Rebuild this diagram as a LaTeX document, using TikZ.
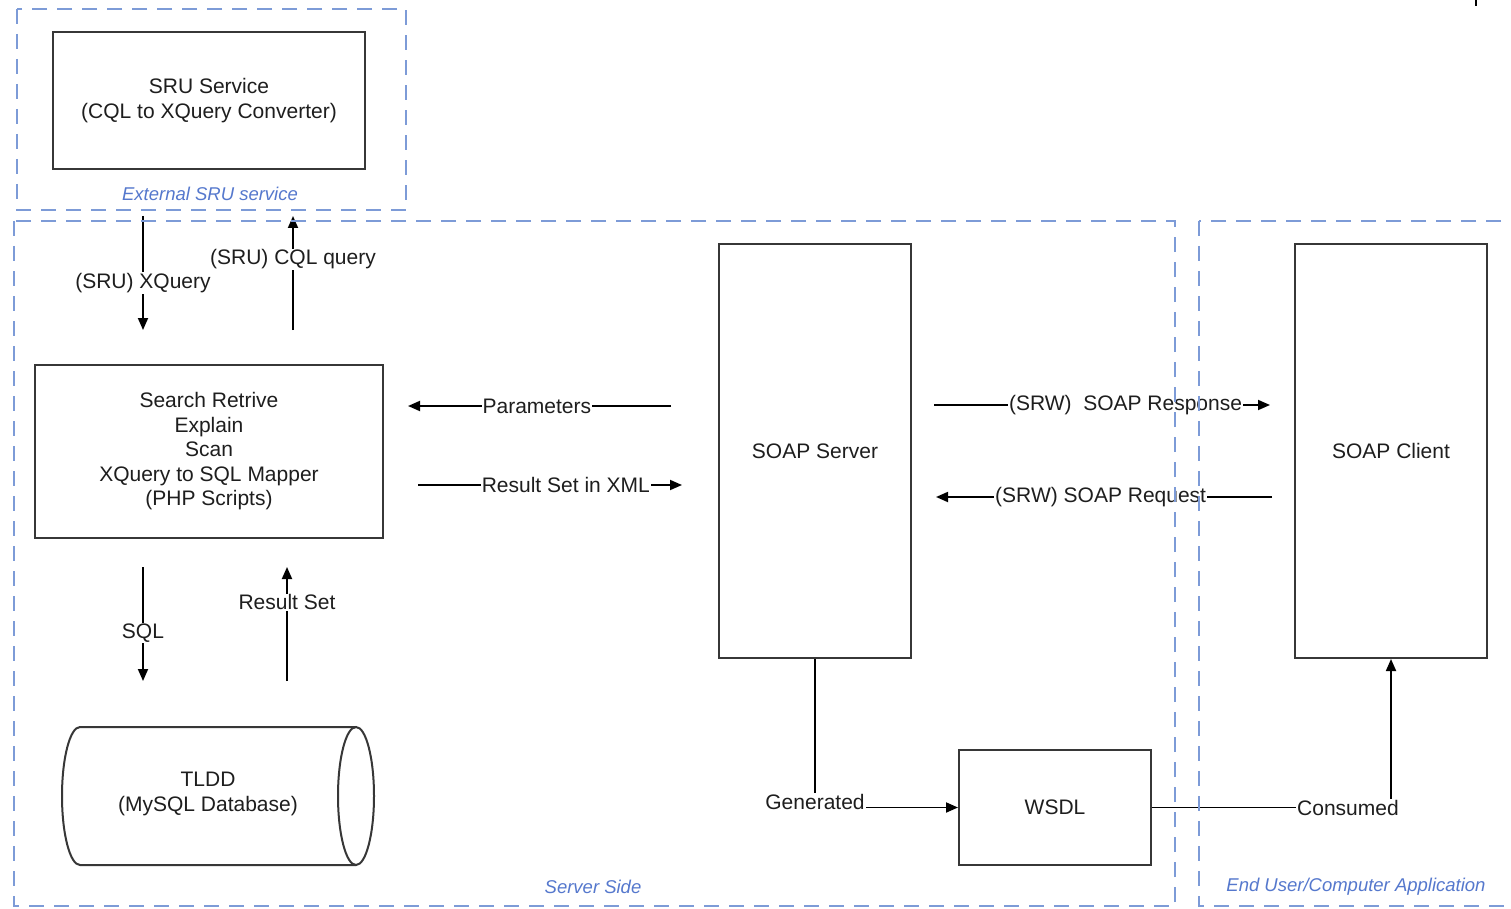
\documentclass[tikz,border=0pt]{standalone}
\usepackage{fontspec}
\setmainfont{Liberation Sans}
\usetikzlibrary{arrows.meta}
\definecolor{dashblue}{RGB}{125,155,215}
\definecolor{lblblue}{RGB}{85,120,205}
\definecolor{boxgray}{RGB}{55,55,55}
\definecolor{txt}{RGB}{30,30,30}
\begin{document}
\begin{tikzpicture}[x=1pt,y=-1pt,
  box/.style={draw=boxgray, line width=2pt, align=center, text=txt,
    font=\fontsize{21}{24.5}\selectfont, inner sep=0pt},
  frame/.style={draw=dashblue, line width=2.6pt, dash pattern=on 15pt off 10pt},
  zone/.style={text=lblblue, font=\fontsize{18.5}{20}\selectfont\itshape, inner sep=0pt},
  lbl/.style={fill=white, inner sep=1pt, text=txt, font=\fontsize{21}{23}\selectfont},
  arr/.style={draw=black, line width=1.8pt, -{Triangle[length=12pt,width=10pt]}},
  plain/.style={draw=black, line width=1.8pt}]
\useasboundingbox (0,0) rectangle (1511,909);
\clip (0,0) rectangle (1511,909);
\fill[white] (0,0) rectangle (1511,909);

% boxes
\node[box, minimum width=312pt, minimum height=137pt] (sru) at (209,100.5)
  {SRU Service\\(CQL to XQuery Converter)};
\node[box, minimum width=348pt, minimum height=173pt] (search) at (209,451.5)
  {Search Retrive\\Explain\\Scan\\XQuery to SQL Mapper\\(PHP Scripts)};
\node[box, minimum width=192pt, minimum height=414pt] (soap) at (815,451) {SOAP Server};
\node[box, minimum width=192pt, minimum height=414pt] (client) at (1391,451) {SOAP Client};
\node[box, minimum width=192pt, minimum height=115pt] (wsdl) at (1055,807.5) {WSDL};

% database cylinder
\draw[boxgray, line width=2pt] (356,727) -- (80,727)
  arc[start angle=90, end angle=270, x radius=18pt, y radius=69pt] -- (356,865);
\draw[boxgray, line width=2pt] (356,796) ellipse [x radius=18pt, y radius=69pt];
\node[align=center, text=txt, font=\fontsize{21}{24.5}\selectfont] (db) at (208,794)
  {TLDD\\(MySQL Database)};

% free connector ends
\coordinate (xqa) at (143,216); \coordinate (xqb) at (143,330);
\coordinate (cqa) at (293,330); \coordinate (cqb) at (293,216);
\coordinate (paa) at (671,406); \coordinate (pab) at (408,406);
\coordinate (rsa) at (418,485); \coordinate (rsb) at (682,485);
\coordinate (spa) at (934,405); \coordinate (spb) at (1270,405);
\coordinate (sqa) at (1272,497); \coordinate (sqb) at (936,497);
\coordinate (sla) at (143,567); \coordinate (slb) at (143,681);
\coordinate (rta) at (287,681); \coordinate (rtb) at (287,567);

\draw[arr] (xqa) -- node[lbl, pos=0.59] {(SRU) XQuery} (xqb);
\draw[arr] (cqa) -- node[lbl, pos=0.62] {(SRU) CQL query} (cqb);
\draw[arr] (paa) -- node[lbl, pos=0.51] {Parameters} (pab);
\draw[arr] (rsa) -- node[lbl, pos=0.56] {Result Set in XML} (rsb);
\draw[arr] (spa) -- node[lbl, pos=0.57] {(SRW)\ \ SOAP Response} (spb);
\draw[arr] (sqa) -- node[lbl, pos=0.51] {(SRW) SOAP Request} (sqb);
\draw[arr] (sla) -- node[lbl, pos=0.58] {SQL} (slb);
\draw[arr] (rta) -- node[lbl, pos=0.69] {Result Set} (rtb);

\draw[arr] (soap.south) |- node[lbl, pos=0.5, yshift=6pt] {Generated} (wsdl.west);
\draw[arr] (wsdl.east) -| node[lbl, pos=0.41] {Consumed} (client.south);

% zones (drawn on top)
\draw[frame] (17,9) rectangle (406,210);
\draw[frame] (14,221) rectangle (1175,906);
\draw[frame] (1199,221) rectangle (1540,906);
\node[zone] (zext) at (210,194) {External SRU service};
\node[zone] (zsrv) at (593,887) {Server Side};
\node[zone] (zend) at (1356,887) {End User/Computer Application};

% small mark at top right
\coordinate (tka) at (1476,0); \coordinate (tkb) at (1476,6);
\draw[plain] (tka) -- (tkb);
\end{tikzpicture}
\end{document}
